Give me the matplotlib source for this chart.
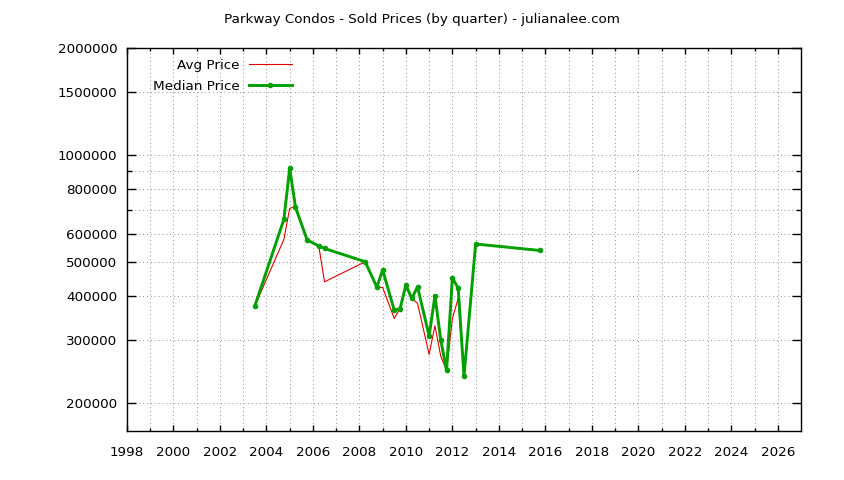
import matplotlib
matplotlib.use("Agg")
import matplotlib.pyplot as plt
from matplotlib.ticker import FixedLocator, FuncFormatter, NullFormatter

# quarter (decimal year) and sold prices
quarters = [2003.5, 2004.75, 2005.0, 2005.25, 2005.75, 2006.25, 2006.5,
            2008.25, 2008.75, 2009.0, 2009.5, 2009.75, 2010.0, 2010.25,
            2010.5, 2011.0, 2011.25, 2011.5, 2011.75, 2012.0, 2012.25,
            2012.5, 2013.0, 2015.75]
avg_price = [375000, 578000, 707000, 715000, 576000, 554000, 439000,
             500000, 424000, 423000, 346000, 370000, 430000, 394000,
             382000, 274000, 330000, 271000, 247000, 346000, 394000,
             238000, 561000, 538000]
median_price = [375000, 658000, 917000, 712000, 576000, 554000, 545000,
                500000, 424000, 474000, 365000, 369000, 430000, 394000,
                425000, 309000, 401000, 301000, 247000, 451000, 421000,
                238000, 561000, 538000]

y_major = [200000, 300000, 400000, 500000, 600000, 800000, 1000000, 1500000, 2000000]
y_minor = [700000, 900000]
x_major = list(range(1998, 2027, 2))
x_minor = list(range(1999, 2027, 2))

title = "Parkway Condos - Sold Prices (by quarter) - julianalee.com"

plt.rcParams["font.family"] = "DejaVu Sans"
fs = 9.7

fig = plt.figure(figsize=(8.44, 4.8), dpi=100)
ax = fig.add_axes([127 / 844, 49 / 480, (801 - 127) / 844, (431 - 48) / 480])

ax.plot(quarters, avg_price, color="#e00000", lw=0.8, label="Avg Price", zorder=3)
ax.plot(quarters, median_price, color="#00a000", lw=2.1, marker="o", ms=3,
        label="Median Price", zorder=4)

ax.set_yscale("log")
ax.set_ylim(166800, 2000000)
ax.set_xlim(1998, 2027)

ax.yaxis.set_major_locator(FixedLocator(y_major))
ax.yaxis.set_minor_locator(FixedLocator(y_minor))
ax.yaxis.set_major_formatter(FuncFormatter(lambda v, p: "%d" % v))
ax.yaxis.set_minor_formatter(NullFormatter())
ax.xaxis.set_major_locator(FixedLocator(x_major))
ax.xaxis.set_minor_locator(FixedLocator(x_minor))
ax.xaxis.set_major_formatter(FuncFormatter(lambda v, p: "%d" % v))

ax.tick_params(axis="both", which="both", direction="in", top=True, right=True,
               labelsize=fs, width=1, color="black")
ax.tick_params(axis="y", which="major", length=6.5, pad=7)
ax.tick_params(axis="y", which="minor", length=3.6)
ax.tick_params(axis="x", which="major", length=4.5, pad=11)
ax.tick_params(axis="x", which="minor", length=2.3)

ax.grid(True, which="both", color="#909090", lw=0.7, ls=(0, (1, 3)))
for s in ax.spines.values():
    s.set_linewidth(1)

fig.text(422 / 844, 1 - 19 / 480, title, ha="center", va="center", fontsize=fs)

ax.legend(loc="upper right", bbox_to_anchor=(292 / 844, 1 - 59 / 480),
          bbox_transform=fig.transFigure, frameon=False, markerfirst=False,
          numpoints=1, fontsize=fs, handlelength=3.2, handletextpad=0.7,
          borderpad=0, borderaxespad=0, labelspacing=0.58)

fig.savefig("out.png", dpi=100)
